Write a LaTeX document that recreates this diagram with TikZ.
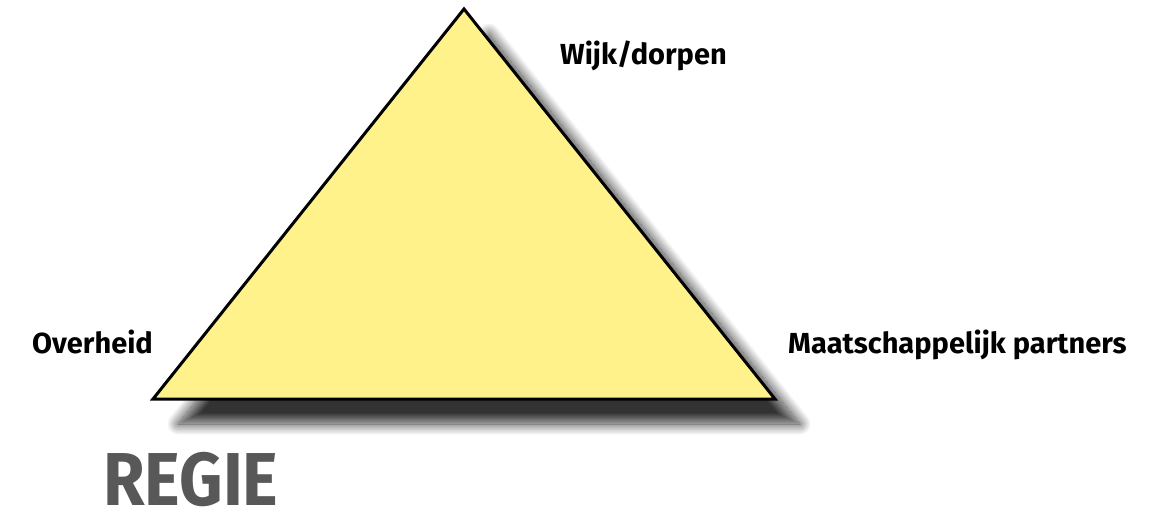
\documentclass[tikz,border=0pt]{standalone}
\usepackage{fontspec}
\setmainfont{Fira Sans}
\usetikzlibrary{shadows.blur}
\definecolor{triyellow}{RGB}{255,242,138}
\definecolor{regiegray}{RGB}{88,88,88}
\tikzset{
  lbl/.style={anchor=base west, inner sep=0pt, font=\fontsize{29}{32}\selectfont\bfseries},
  tri/.style={fill=triyellow, line width=3pt, line join=miter,
    blur shadow={shadow xshift=25pt, shadow yshift=-25pt, shadow blur radius=11pt, shadow blur steps=20, shadow opacity=80}},
}
\begin{document}
\begin{tikzpicture}[x=1pt,y=-1pt]
\useasboundingbox (0,0) rectangle (1165,513);
\coordinate (A) at (464,9);
\coordinate (L) at (153,399);
\coordinate (R) at (775,399);
\draw[tri] (A) -- (L) -- (R) -- cycle;
\node[lbl] (wijk) at (560,65) {Wijk/dorpen};
\node[lbl] (over) at (32,353) {Overheid};
\node[lbl] (maat) at (788,353) {Maatschappelijk partners};
\node[anchor=base west, inner sep=0pt, text=regiegray] (regie) at (103,505) {\scalebox{0.9}[1]{\fontsize{75}{80}\selectfont\bfseries REGIE}};
\end{tikzpicture}
\end{document}
